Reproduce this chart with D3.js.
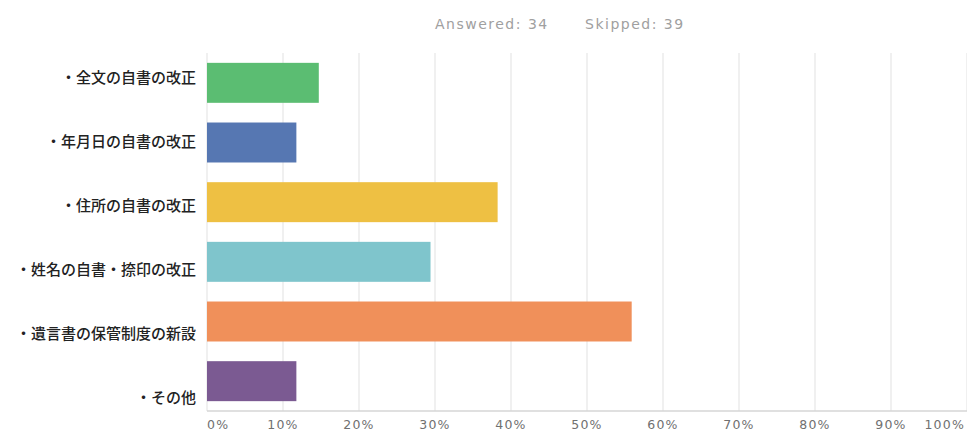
<!DOCTYPE html>
<html>
<head>
<meta charset="utf-8">
<script src="https://cdn.jsdelivr.net/npm/d3@7"></script>
<style>
  html, body { margin: 0; padding: 0; background: #fff; }
  svg { display: block; }
</style>
</head>
<body>
<svg id="chart" width="967" height="433"></svg>
<script>
// Survey answer choices and the share of respondents choosing each (percent)
const categories = [
  "・全文の自書の改正",
  "・年月日の自書の改正",
  "・住所の自書の改正",
  "・姓名の自書・捺印の改正",
  "・遺言書の保管制度の新設",
  "・その他"
];
const values = [14.71, 11.76, 38.24, 29.41, 55.88, 11.76];
const colors = ["#5bbd72", "#5677b2", "#eec043", "#7fc5cc", "#f0905a", "#7b5a92"];
const tickValues = [0, 10, 20, 30, 40, 50, 60, 70, 80, 90, 100];
const answered = 34;
const skipped = 39;

const svg = d3.select("#chart");
const plot = { left: 207, right: 967, top: 53, bottom: 411 };

const x = d3.scaleLinear().domain([0, 100]).range([plot.left, plot.right]);
const y = d3.scaleBand().domain(categories).range([plot.top, plot.bottom])
  .paddingInner(0.33).paddingOuter(0.165);
const yLabel = d3.scalePoint().domain(categories).range([78, 398]);

// header
const header = svg.append("g")
  .attr("font-family", "DejaVu Sans, sans-serif")
  .attr("font-size", 14)
  .attr("letter-spacing", 1.5)
  .attr("fill", "#a0a0a0");
header.append("text").attr("x", 435).attr("y", 29).text(`Answered: ${answered}`);
header.append("text").attr("x", 585).attr("y", 29).text(`Skipped: ${skipped}`);

// vertical gridlines
svg.append("g").selectAll("line").data(tickValues).join("line")
  .attr("x1", d => x(d)).attr("x2", d => x(d))
  .attr("y1", plot.top).attr("y2", plot.bottom)
  .attr("stroke", "#ebebeb").attr("stroke-width", 1.5);

// baseline
svg.append("line")
  .attr("x1", plot.left).attr("x2", plot.right)
  .attr("y1", plot.bottom).attr("y2", plot.bottom)
  .attr("stroke", "#d6d6d6").attr("stroke-width", 1.5);

// bars
svg.append("g").selectAll("rect").data(categories).join("rect")
  .attr("x", x(0))
  .attr("y", d => y(d))
  .attr("width", (d, i) => x(values[i]) - x(0))
  .attr("height", y.bandwidth())
  .attr("fill", (d, i) => colors[i]);

// category labels
svg.append("g")
  .attr("font-family", "Noto Sans CJK JP, sans-serif")
  .attr("font-size", 15)
  .attr("font-weight", 500)
  .attr("fill", "#222")
  .selectAll("text").data(categories).join("text")
  .attr("x", 196)
  .attr("y", d => yLabel(d))
  .attr("dy", "0.35em")
  .attr("text-anchor", "end")
  .text(d => d);

// x tick labels
svg.append("g")
  .attr("font-family", "DejaVu Sans, sans-serif")
  .attr("font-size", 12.5)
  .attr("letter-spacing", 1.2)
  .attr("fill", "#707070")
  .selectAll("text").data(tickValues).join("text")
  .attr("x", d => d === 100 ? x(d) - 2 : x(d))
  .attr("y", 425)
  .attr("dy", "0.35em")
  .attr("text-anchor", d => d === 0 ? "start" : d === 100 ? "end" : "middle")
  .text(d => d + "%");
</script>
</body>
</html>
